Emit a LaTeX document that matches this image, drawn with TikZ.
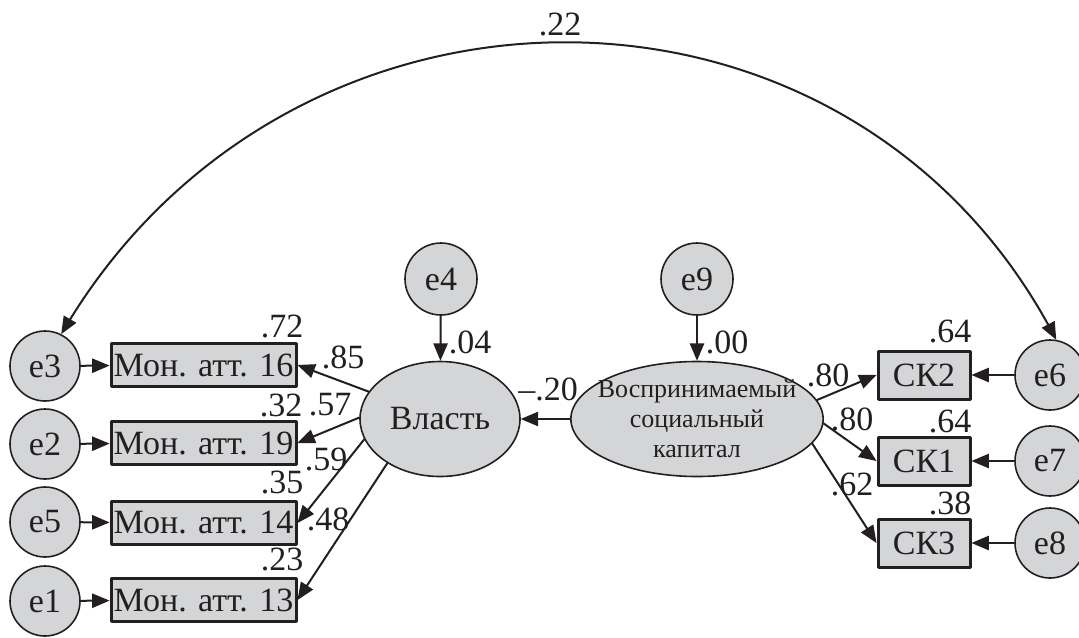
\documentclass[tikz,border=0pt]{standalone}
\usepackage{fontspec}
\setmainfont{Liberation Serif}
\usetikzlibrary{arrows,shapes.geometric}
\definecolor{semgray}{RGB}{212,213,215}
\definecolor{inkdark}{RGB}{35,31,32}

\begin{document}
\begin{tikzpicture}[line cap=round,line join=round,>=triangle 45,x=0.5pt,y=-0.5pt,
  every node/.style={text=inkdark},
  errc/.style={circle,draw=inkdark,line width=0.8pt,fill=semgray,minimum size=35pt,inner sep=0pt,font=\fontsize{17}{20}\selectfont},
  obsbox/.style={rectangle,draw=inkdark,line width=1.5pt,fill=semgray,minimum width=92.5pt,minimum height=21.5pt,inner sep=0pt,font=\fontsize{17}{20}\selectfont},
  ckbox/.style={obsbox,minimum width=46pt,minimum height=24pt},
  latent/.style={ellipse,draw=inkdark,line width=0.8pt,fill=semgray,inner sep=0pt,minimum height=57.5pt},
  coef/.style={inner sep=0pt,font=\fontsize{17}{20}\selectfont},
  path/.style={->,draw=inkdark,line width=1pt}]
\useasboundingbox (0,0) rectangle (1079,637);
% latent variables
\node[latent,minimum width=80pt,font=\fontsize{17}{20}\selectfont] (vl) at (440,419) {Власть};
\node[latent,minimum width=124pt,inner xsep=-5pt,align=center,font=\fontsize{13}{15}\selectfont] (vsk) at (697,419) {Воспринимаемый\\социальный\\капитал};
\node[errc,minimum size=36pt] (e4) at (441,279) {e4};
\node[errc,minimum size=36pt] (e9) at (697,279) {e9};
% left indicators
\node[obsbox] (m16) at (203.5,365) {Мон. атт. 16};
\node[obsbox] (m19) at (203.5,443) {Мон. атт. 19};
\node[obsbox] (m14) at (203.5,523) {Мон. атт. 14};
\node[obsbox] (m13) at (203.5,600) {Мон. атт. 13};
\node[errc] (e3) at (45,366) {e3};
\node[errc] (e2) at (45,444) {e2};
\node[errc] (e5) at (45,522) {e5};
\node[errc] (e1) at (45,601) {e1};
% right indicators
\node[ckbox] (ck2) at (924,375) {СК2};
\node[ckbox] (ck1) at (924,461) {СК1};
\node[ckbox] (ck3) at (924,543) {СК3};
\node[errc] (e6) at (1050,375) {e6};
\node[errc] (e7) at (1050,461) {e7};
\node[errc] (e8) at (1050,543) {e8};

\draw[path] (e3) -- (m16);
\draw[path] (e2) -- (m19);
\draw[path] (e5) -- (m14);
\draw[path] (e1) -- (m13);
\draw[path] (e6) -- (ck2);
\draw[path] (e7) -- (ck1);
\draw[path] (e8) -- (ck3);
\draw[path] (e4) -- (vl);
\draw[path] (e9) -- (vsk);
\draw[path] (vsk) -- (vl);
\draw[path] (vl.159) -- (m16.east);
\draw[path] (vl.179) -- (m19.east);
\draw[path] (vl.195) -- (m14.east);
\draw[path] (vl.220) -- (m13.east);
\draw[path] (vsk.9) -- (ck2.west);
\draw[path] (vsk.358) -- (ck1.west);
\draw[path] (vsk.348) -- (ck3.west);
\draw[path,<->] (e3.63) .. controls (290,-55) and (850,-55) .. (e6.80);

% coefficients
\node[coef] (c22) at (560,24) {.22};
\node[coef] (c72) at (282,326) {.72};
\node[coef] (c85) at (343,357) {.85};
\node[coef] (c32) at (281,405) {.32};
\node[coef] (c57) at (330,405) {.57};
\node[coef] (c59) at (326,459) {.59};
\node[coef] (c35) at (282,482) {.35};
\node[coef] (c48) at (328,519) {.48};
\node[coef] (c23) at (282,559) {.23};
\node[coef] (c04) at (470,342) {.04};
\node[coef] (c00) at (727,342) {.00};
\node[coef] (c20) at (548,389) {–.20};
\node[coef] (c80a) at (828,375) {.80};
\node[coef] (c80b) at (852,419) {.80};
\node[coef] (c62) at (852,484) {.62};
\node[coef] (c64a) at (950,331) {.64};
\node[coef] (c64b) at (950,421) {.64};
\node[coef] (c38) at (950,503) {.38};
\end{tikzpicture}
\end{document}
